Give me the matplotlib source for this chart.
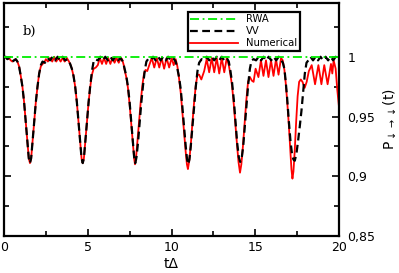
import matplotlib
matplotlib.use("Agg")
import matplotlib.pyplot as plt
from matplotlib.ticker import MultipleLocator

# VV curve
vv_t = [0.00, 0.10, 0.20, 0.30, 0.40, 0.50, 0.60, 0.70, 0.80, 0.90,
        1.00, 1.10, 1.20, 1.30, 1.40, 1.48, 1.55, 1.62, 1.70, 1.80,
        1.90, 2.00, 2.10, 2.20, 2.30, 2.45, 2.60, 2.75, 2.90, 3.05,
        3.20, 3.35, 3.50, 3.65, 3.80, 3.95, 4.05, 4.15, 4.25, 4.35,
        4.45, 4.55, 4.63, 4.70, 4.77, 4.85, 4.95, 5.05, 5.15, 5.25,
        5.35, 5.45, 5.60, 5.75, 5.90, 6.05, 6.20, 6.35, 6.50, 6.65,
        6.80, 6.95, 7.10, 7.20, 7.30, 7.40, 7.50, 7.60, 7.70, 7.77,
        7.84, 7.91, 8.00, 8.10, 8.20, 8.30, 8.40, 8.50, 8.60, 8.75,
        8.90, 9.05, 9.20, 9.35, 9.50, 9.65, 9.80, 9.95, 10.10, 10.25,
        10.35, 10.45, 10.55, 10.65, 10.75, 10.85, 10.93, 11.00, 11.07, 11.15,
        11.25, 11.35, 11.45, 11.55, 11.65, 11.80, 11.95, 12.10, 12.25, 12.40,
        12.55, 12.70, 12.85, 13.00, 13.15, 13.30, 13.42, 13.52, 13.62, 13.72,
        13.82, 13.92, 14.02, 14.10, 14.18, 14.28, 14.38, 14.48, 14.58, 14.68,
        14.78, 14.90, 15.05, 15.20, 15.35, 15.50, 15.65, 15.80, 15.95, 16.10,
        16.25, 16.40, 16.55, 16.65, 16.74, 16.82, 16.90, 17.00, 17.10, 17.20,
        17.28, 17.36, 17.46, 17.56, 17.66, 17.76, 17.86, 17.96, 18.06, 18.17,
        18.30, 18.45, 18.60, 18.75, 18.90, 19.05, 19.20, 19.35, 19.50, 19.65,
        19.80, 19.90, 20.00]
vv_p = [0.999, 1.000, 0.998, 0.999, 0.997, 0.996, 0.997, 0.998, 0.996, 0.992,
        0.984, 0.975, 0.962, 0.945, 0.928, 0.915, 0.911, 0.915, 0.928, 0.945,
        0.962, 0.975, 0.986, 0.993, 0.996, 0.995, 0.999, 0.997, 1.000, 0.997,
        1.000, 0.997, 1.000, 0.997, 0.998, 0.994, 0.990, 0.984, 0.975, 0.962,
        0.945, 0.928, 0.915, 0.911, 0.915, 0.928, 0.945, 0.962, 0.976, 0.988,
        0.996, 0.998, 0.997, 1.000, 0.997, 1.000, 0.997, 1.000, 0.997, 1.000,
        0.997, 0.999, 0.996, 0.990, 0.984, 0.975, 0.962, 0.945, 0.928, 0.916,
        0.911, 0.916, 0.928, 0.945, 0.962, 0.976, 0.988, 0.996, 0.998, 0.997,
        1.000, 0.997, 1.000, 0.997, 1.000, 0.997, 1.000, 0.997, 0.999, 0.996,
        0.990, 0.983, 0.973, 0.958, 0.941, 0.925, 0.914, 0.910, 0.914, 0.925,
        0.941, 0.958, 0.975, 0.988, 0.995, 0.998, 0.997, 1.000, 0.997, 1.000,
        0.997, 1.000, 0.997, 1.000, 0.997, 0.999, 0.996, 0.988, 0.978, 0.964,
        0.946, 0.928, 0.916, 0.912, 0.914, 0.925, 0.942, 0.960, 0.977, 0.990,
        0.997, 0.998, 0.997, 1.000, 0.997, 1.000, 0.997, 1.000, 0.997, 1.000,
        0.997, 1.000, 0.997, 0.995, 0.990, 0.979, 0.966, 0.947, 0.930, 0.918,
        0.914, 0.913, 0.919, 0.930, 0.942, 0.955, 0.971, 0.986, 0.995, 0.997,
        1.000, 0.997, 1.000, 0.997, 1.000, 0.997, 1.000, 0.997, 1.000, 0.997,
        1.000, 0.998, 0.997]

# Numerical curve
num_t = [0.00, 0.10, 0.20, 0.30, 0.40, 0.50, 0.60, 0.70, 0.80, 0.90,
         1.00, 1.10, 1.20, 1.30, 1.40, 1.48, 1.55, 1.62, 1.70, 1.80,
         1.90, 2.00, 2.10, 2.20, 2.30, 2.40, 2.50, 2.62, 2.75, 2.88,
         3.00, 3.12, 3.25, 3.38, 3.50, 3.62, 3.75, 3.88, 3.95, 4.05,
         4.15, 4.25, 4.35, 4.45, 4.55, 4.63, 4.70, 4.77, 4.85, 4.95,
         5.05, 5.15, 5.25, 5.35, 5.48, 5.60, 5.72, 5.85, 5.97, 6.10,
         6.22, 6.35, 6.47, 6.60, 6.72, 6.85, 6.97, 7.05, 7.15, 7.20,
         7.30, 7.40, 7.50, 7.60, 7.70, 7.77, 7.82, 7.88, 7.96, 8.06,
         8.16, 8.26, 8.36, 8.45, 8.55, 8.67, 8.82, 8.97, 9.12, 9.27,
         9.41, 9.56, 9.71, 9.86, 10.01, 10.13, 10.25, 10.35, 10.45, 10.55,
         10.65, 10.75, 10.85, 10.92, 10.98, 11.05, 11.15, 11.25, 11.35, 11.45,
         11.55, 11.65, 11.78, 11.95, 12.10, 12.25, 12.40, 12.55, 12.70, 12.85,
         13.00, 13.15, 13.30, 13.42, 13.52, 13.62, 13.72, 13.82, 13.92, 14.00,
         14.09, 14.17, 14.27, 14.37, 14.47, 14.57, 14.68, 14.80, 14.90, 15.02,
         15.19, 15.34, 15.49, 15.64, 15.79, 15.94, 16.09, 16.24, 16.39, 16.54,
         16.64, 16.74, 16.82, 16.90, 17.00, 17.08, 17.16, 17.22, 17.28, 17.36,
         17.44, 17.53, 17.62, 17.72, 17.82, 17.95, 18.07, 18.20, 18.37, 18.57,
         18.77, 18.95, 19.12, 19.32, 19.52, 19.60, 19.68, 19.80, 19.90, 20.00]
num_p = [0.999, 1.000, 0.998, 0.999, 0.997, 0.996, 0.997, 0.998, 0.996, 0.992,
         0.984, 0.975, 0.962, 0.945, 0.928, 0.915, 0.911, 0.915, 0.928, 0.945,
         0.962, 0.975, 0.986, 0.992, 0.994, 0.995, 0.998, 0.996, 0.999, 0.996,
         1.000, 0.996, 0.999, 0.996, 0.999, 0.996, 0.999, 0.996, 0.994, 0.990,
         0.984, 0.975, 0.962, 0.945, 0.928, 0.915, 0.911, 0.915, 0.928, 0.945,
         0.962, 0.975, 0.985, 0.990, 0.991, 0.993, 0.999, 0.994, 0.999, 0.994,
         0.999, 0.994, 0.999, 0.995, 0.999, 0.995, 0.999, 0.998, 0.993, 0.989,
         0.983, 0.974, 0.960, 0.943, 0.926, 0.915, 0.910, 0.915, 0.928, 0.945,
         0.962, 0.976, 0.986, 0.989, 0.988, 0.993, 0.999, 0.991, 0.999, 0.991,
         0.999, 0.990, 0.999, 0.991, 0.999, 0.993, 0.998, 0.992, 0.982, 0.970,
         0.954, 0.937, 0.920, 0.910, 0.906, 0.912, 0.926, 0.945, 0.962, 0.976,
         0.985, 0.985, 0.981, 0.988, 0.998, 0.987, 0.999, 0.987, 0.999, 0.986,
         0.999, 0.987, 0.999, 0.993, 0.985, 0.975, 0.960, 0.942, 0.925, 0.912,
         0.903, 0.910, 0.926, 0.945, 0.964, 0.979, 0.983, 0.980, 0.979, 0.990,
         0.983, 0.997, 0.984, 0.997, 0.983, 0.997, 0.984, 0.998, 0.985, 0.999,
         0.997, 0.989, 0.978, 0.964, 0.944, 0.925, 0.906, 0.898, 0.904, 0.922,
         0.945, 0.967, 0.979, 0.981, 0.979, 0.974, 0.979, 0.988, 0.993, 0.977,
         0.993, 0.977, 0.993, 0.977, 0.994, 0.986, 0.997, 0.990, 0.972, 0.958]

rwa_t = [0, 20]
rwa_p = [1.0, 1.0]

xticks = [0, 5, 10, 15, 20]
yticks = [0.85, 0.9, 0.95, 1.0]
ytick_labels = ["0,85", "0,9", "0,95", "1"]

fig = plt.figure(figsize=(3.99, 2.73), dpi=100)
ax = fig.add_axes([4 / 399, 37 / 273, 335 / 399, 233 / 273])

ax.plot(num_t, num_p, color="red", lw=1.3, label="Numerical", zorder=2)
ax.plot(vv_t, vv_p, color="black", lw=1.6, ls=(0, (3.5, 2)), label="VV", zorder=3)
ax.plot(rwa_t, rwa_p, color="#00ee00", lw=1.3, ls=(0, (5, 2, 1, 2)), label="RWA", zorder=4)

ax.set_xlim(0, 20)
ax.set_ylim(0.85, 1.045)
ax.set_xticks(xticks)
ax.set_xticklabels([str(v) for v in xticks])
ax.set_yticks(yticks)
ax.set_yticklabels(ytick_labels)
ax.xaxis.set_minor_locator(MultipleLocator(2.5))
ax.yaxis.set_minor_locator(MultipleLocator(0.025))
ax.yaxis.tick_right()
ax.tick_params(which="both", direction="in", top=True, bottom=True, left=True, right=True,
               labelleft=False, labelright=True, width=1.2, labelsize=9)
ax.tick_params(which="major", length=5)
ax.tick_params(which="minor", length=3.5)
ax.tick_params(axis="y", pad=6)
for s in ax.spines.values():
    s.set_linewidth(1.6)

ax.set_xlabel("t\u0394", fontsize=10, labelpad=2)
ax.yaxis.set_label_position("right")
ax.set_ylabel(r"P$_{\downarrow\rightarrow\downarrow}$(t)", fontsize=10, labelpad=4)

ax.text(0.055, 0.88, "b)", transform=ax.transAxes, fontsize=9.5,
        family="DejaVu Serif", va="center", ha="left")

h, l = ax.get_legend_handles_labels()
leg = ax.legend(h[::-1], l[::-1], loc="upper left", bbox_to_anchor=(0.548, 0.962),
                fontsize=7.2, handlelength=4.8, labelspacing=0.2, borderpad=0.25,
                handletextpad=0.8, fancybox=False, framealpha=1, borderaxespad=0)
leg.get_frame().set_edgecolor("black")
leg.get_frame().set_linewidth(1.6)

fig.savefig("out.png", dpi=100)
